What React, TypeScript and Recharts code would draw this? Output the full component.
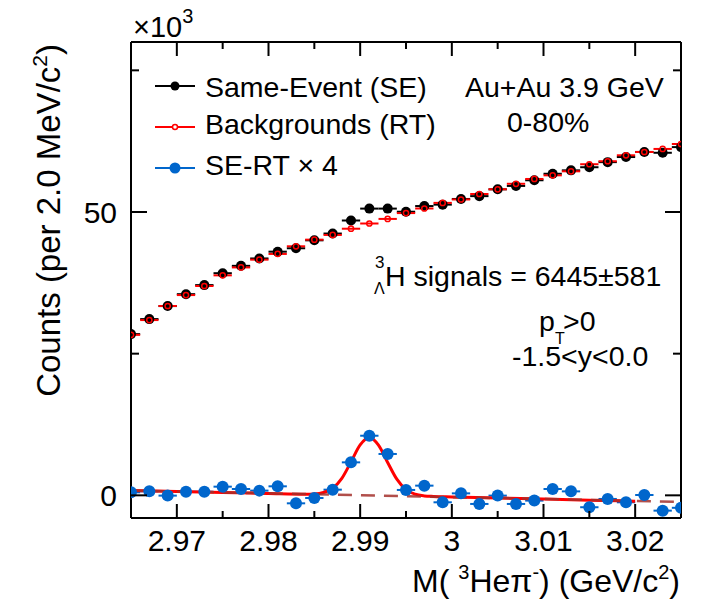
import React from "react";
import { ComposedChart, Scatter, Line, XAxis, YAxis, ErrorBar } from "recharts";

const FONT = '"Liberation Sans", Arial, Helvetica, sans-serif';

// bin centres, M(3He pi-) in GeV/c^2 (2 MeV bins)
const massBins = [
  2.965, 2.967, 2.969, 2.971, 2.973, 2.975, 2.977, 2.979, 2.981, 2.983, 2.985,
  2.987, 2.989, 2.991, 2.993, 2.995, 2.997, 2.999, 3.001, 3.003, 3.005, 3.007,
  3.009, 3.011, 3.013, 3.015, 3.017, 3.019, 3.021, 3.023, 3.025,
];

// counts x10^3
const sameEvent = [
  28.45, 31.1, 33.4, 35.5, 37.1, 39.2, 40.5, 41.8, 43.0, 43.6, 45.0,
  46.2, 48.5, 50.6, 50.6, 50.05, 51.05, 51.3, 52.3, 52.8, 54.0, 54.6,
  55.6, 56.75, 57.35, 57.9, 58.8, 59.7, 60.6, 60.45, 61.45,
];
const rotated = [
  28.32, 30.93, 33.41, 35.34, 36.94, 38.82, 40.22, 41.59, 42.6, 43.95, 45.12,
  45.95, 47.05, 47.97, 48.78, 49.81, 50.62, 51.61, 52.21, 53.18, 54.01, 54.98,
  55.83, 56.47, 57.18, 58.43, 58.96, 60.01, 60.59, 61.13, 62.0,
];
const signalX4 = [
  0.53, 0.7, -0.05, 0.65, 0.65, 1.53, 1.12, 0.83, 1.59, -1.41, -0.47,
  1.0, 5.82, 10.52, 7.3, 0.95, 1.71, -1.23, 0.35, -1.52, -0.05, -1.52,
  -0.93, 1.12, 0.7, -2.1, -0.64, -1.23, 0.06, -2.7, -2.2,
];

// fit (gaus + pol1)
const fitMass = [
  2.965, 2.97, 2.975, 2.98, 2.984, 2.985, 2.986, 2.987, 2.988, 2.989, 2.99,
  2.991, 2.992, 2.993, 2.994, 2.995, 2.996, 2.997, 2.998, 3.0, 3.005, 3.01,
  3.015, 3.02,
];
const fitVal = [
  0.85, 0.68, 0.5, 0.33, 0.21, 0.25, 0.5, 1.25, 3.0, 5.9, 8.9,
  10.2, 8.85, 5.8, 2.85, 1.0, 0.2, -0.1, -0.2, -0.28, -0.45, -0.65,
  -0.85, -1.05,
];
const bgMass = [2.965, 3.025];
const bgVal = [0.85, -1.15];

const xMajor = [2.97, 2.98, 2.99, 3, 3.01, 3.02];
const xMinor = [2.975, 2.985, 2.995, 3.005, 3.015];
const yMajor = [0, 50];
const yMinor = [25, 75];

const X_DOM: [number, number] = [2.965, 3.025];
const Y_DOM: [number, number] = [-4, 80];
const BIN_HALF = 0.001;

// horizontal bin-width bars, cut at the frame like ROOT does
const toPts = (xs: number[], ys: number[]) =>
  xs.map((x, i) => ({
    x,
    y: ys[i],
    ex: [Math.min(BIN_HALF, x - X_DOM[0]), Math.min(BIN_HALF, X_DOM[1] - x)],
  }));

const seData = toPts(massBins, sameEvent);
const rtData = toPts(massBins, rotated);
const sigData = toPts(massBins, signalX4);
const fitData = toPts(fitMass, fitVal);
const bgData = toPts(bgMass, bgVal);

const BLUE = "#0066cc";
const xTicks = [...xMajor, ...xMinor];
const yTicks = [...yMajor, ...yMinor];

// ROOT-style ticks: pointing into the frame, half length for minor ones
function BottomTick({ x, y, payload }: any) {
  const major = xMajor.includes(payload.value);
  return (
    <g>
      <line x1={x} x2={x} y1={y} y2={y - (major ? 14 : 7)} stroke="#000" strokeWidth={2} />
      {major && (
        <text x={x} y={y + 33} textAnchor="middle" fontSize={30} fontFamily={FONT} fill="#000">
          {payload.value}
        </text>
      )}
    </g>
  );
}
function TopTick({ x, y, payload }: any) {
  const major = xMajor.includes(payload.value);
  return <line x1={x} x2={x} y1={y} y2={y + (major ? 14 : 7)} stroke="#000" strokeWidth={2} />;
}
function LeftTick({ x, y, payload }: any) {
  const major = yMajor.includes(payload.value);
  return (
    <g>
      <line x1={x} x2={x + (major ? 16 : 8)} y1={y} y2={y} stroke="#000" strokeWidth={2} />
      {major && (
        <text x={x - 14} y={y} dy="0.36em" textAnchor="end" fontSize={30} fontFamily={FONT} fill="#000">
          {payload.value}
        </text>
      )}
    </g>
  );
}
function RightTick({ x, y, payload }: any) {
  const major = yMajor.includes(payload.value);
  return <line x1={x} x2={x - (major ? 16 : 8)} y1={y} y2={y} stroke="#000" strokeWidth={2} />;
}

export default function App() {
  const axisLine = { stroke: "#000", strokeWidth: 2 };

  return (
    <div style={{ position: "absolute", left: 0, top: 0, width: 701, height: 600, background: "#fff" }}>
      <ComposedChart width={701} height={600} margin={{ top: 41, right: 19, bottom: 32, left: 41 }}>
        <XAxis xAxisId="main" type="number" dataKey="x" domain={X_DOM} allowDataOverflow orientation="bottom"
          height={50} ticks={xTicks} interval={0} tickSize={0} tickMargin={0} tickLine={false}
          axisLine={axisLine} tick={<BottomTick />} />
        <XAxis xAxisId="top" type="number" dataKey="x" domain={X_DOM} allowDataOverflow orientation="top"
          height={1} ticks={xTicks} interval={0} tickSize={0} tickMargin={0} tickLine={false}
          axisLine={axisLine} tick={<TopTick />} />
        <YAxis yAxisId="main" type="number" dataKey="y" domain={Y_DOM} allowDataOverflow orientation="left"
          width={90} ticks={yTicks} interval={0} tickSize={0} tickMargin={0} tickLine={false}
          axisLine={axisLine} tick={<LeftTick />} />
        <YAxis yAxisId="right" type="number" dataKey="y" domain={Y_DOM} allowDataOverflow orientation="right"
          width={1} ticks={yTicks} interval={0} tickSize={0} tickMargin={0} tickLine={false}
          axisLine={axisLine} tick={<RightTick />} />

        <Scatter xAxisId="main" yAxisId="main" data={seData} isAnimationActive={false}
          shape={(p: any) => <circle cx={p.cx} cy={p.cy} r={5} fill="#000" />}>
          <ErrorBar dataKey="ex" direction="x" width={0} stroke="#000" strokeWidth={2} />
        </Scatter>
        <Scatter xAxisId="main" yAxisId="main" data={rtData} isAnimationActive={false}
          shape={(p: any) => <circle cx={p.cx} cy={p.cy} r={2.6} fill="none" stroke="#ff0000" strokeWidth={1.5} />}>
          <ErrorBar dataKey="ex" direction="x" width={0} stroke="#ff0000" strokeWidth={2} />
        </Scatter>
        <Scatter xAxisId="main" yAxisId="main" data={sigData} isAnimationActive={false}
          shape={(p: any) => <circle cx={p.cx} cy={p.cy} r={6} fill={BLUE} />}>
          <ErrorBar dataKey="ex" direction="x" width={0} stroke={BLUE} strokeWidth={2} />
        </Scatter>
        <Line xAxisId="main" yAxisId="main" data={fitData} dataKey="y" type="monotone" stroke="#ff0000"
          strokeWidth={3} dot={false} isAnimationActive={false} />
        <Line xAxisId="main" yAxisId="main" data={bgData} dataKey="y" type="linear" stroke="#a3302c"
          strokeWidth={2.5} strokeDasharray="14 9" strokeOpacity={0.85} dot={false} isAnimationActive={false} />
      </ComposedChart>

      <svg width={701} height={600} style={{ position: "absolute", left: 0, top: 0, pointerEvents: "none" }}
        fontFamily={FONT} fill="#000">
        <text x={133} y={37} fontSize={29}>×10<tspan dy={-14} fontSize={20}>3</tspan></text>

        <text transform="translate(60,44) rotate(-90)" textAnchor="end" fontSize={33}>
          Counts (per 2.0 MeV/c<tspan dy={-13} fontSize={21}>2</tspan><tspan dy={13}>)</tspan>
        </text>
        <text x={680} y={592} textAnchor="end" fontSize={32}>
          M( <tspan dy={-13} fontSize={20}>3</tspan><tspan dy={13}>Heπ</tspan><tspan dy={-13} fontSize={20}>-</tspan>
          <tspan dy={13}>) (GeV/c</tspan><tspan dy={-13} fontSize={20}>2</tspan><tspan dy={13}>)</tspan>
        </text>

        {/* legend */}
        <line x1={155} x2={195} y1={86} y2={86} stroke="#000" strokeWidth={2} />
        <circle cx={175} cy={86} r={4.5} fill="#000" />
        <text x={205} y={96.5} fontSize={28.5}>Same-Event (SE)</text>
        <line x1={155} x2={195} y1={127} y2={127} stroke="#ff0000" strokeWidth={2} />
        <circle cx={175} cy={127} r={2.5} fill="#fff" stroke="#ff0000" strokeWidth={1.5} />
        <text x={205} y={133.5} fontSize={28.5}>Backgrounds (RT)</text>
        <line x1={155} x2={195} y1={168} y2={168} stroke={BLUE} strokeWidth={2} />
        <circle cx={175} cy={168} r={5.5} fill={BLUE} />
        <text x={205} y={175} fontSize={28.5}>SE-RT × 4</text>

        <text x={465} y={96.5} fontSize={28.5}>Au+Au 3.9 GeV</text>
        <text x={507} y={131.5} fontSize={28.5}>0-80%</text>

        <text x={375} y={268} fontSize={17}>3</text>
        <text x={374} y={294} fontSize={16}>Λ</text>
        <text x={385} y={286} fontSize={28.5}>H signals = 6445±581</text>
        <text x={539} y={331} fontSize={28.5}>p</text>
        <text x={555} y={344} fontSize={16}>T</text>
        <text x={563} y={331} fontSize={28.5}>&gt;0</text>
        <text x={512} y={366} fontSize={28.5}>-1.5&lt;y&lt;0.0</text>
      </svg>
    </div>
  );
}
